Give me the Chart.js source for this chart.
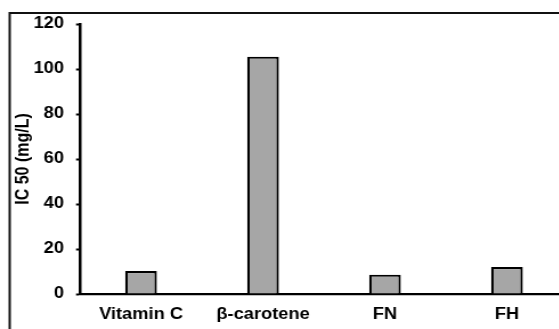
<!DOCTYPE html>
<html>
<head>
<meta charset="utf-8">
<script src="https://cdn.jsdelivr.net/npm/chart.js"></script>
<style>
  html, body { margin: 0; padding: 0; background: #fff; overflow: hidden; width: 559px; height: 329px; }
  #wrap { position: absolute; left: 0; top: 0; width: 506px; height: 329px; transform: scaleX(1.14); transform-origin: 0 0; }
  canvas { display: block; }
</style>
</head>
<body>
<div id="wrap"><canvas id="c" width="506" height="329"></canvas></div>
<script>
// IC50 values (mg/L) for each sample
const categories = ['Vitamin C', 'β-carotene', 'FN', 'FH'];
const ic50Values = [10.2, 105.5, 8.6, 12.0];
const yMin = 0;
const yMax = 120;
const yStep = 20;
const yTitle = 'IC 50 (mg/L)';

const FONT = 'Liberation Sans, Arial, sans-serif';

// outer frame around the figure (left and top edges)
const framePlugin = {
  id: 'frame',
  beforeDraw(chart) {
    const ctx = chart.ctx;
    ctx.save();
    ctx.fillStyle = '#fff';
    ctx.fillRect(0, 0, chart.width, chart.height);
    ctx.strokeStyle = '#111';
    ctx.lineWidth = 2;
    ctx.beginPath();
    ctx.moveTo(8.5, chart.height + 2);
    ctx.lineTo(8.5, 13);
    ctx.lineTo(chart.width + 2, 13);
    ctx.stroke();
    ctx.restore();
  }
};

new Chart(document.getElementById('c'), {
  type: 'bar',
  data: {
    labels: categories,
    datasets: [{
      data: ic50Values,
      backgroundColor: '#a6a6a6',
      borderColor: '#000',
      borderWidth: 2.2,
      borderSkipped: 'bottom',
      barPercentage: 0.26,
      categoryPercentage: 1.0
    }]
  },
  options: {
    responsive: false,
    devicePixelRatio: 1,
    animation: false,
    layout: { padding: { left: 0, top: 24, right: 7.8, bottom: 0 } },
    plugins: { legend: { display: false }, tooltip: { enabled: false } },
    scales: {
      x: {
        offset: true,
        grid: { display: false },
        border: { display: true, color: '#000', width: 2.2 },
        ticks: { color: '#000', padding: 2.5, font: { family: FONT, size: 16, weight: 'bold' } },
        afterFit(scale) { scale.height = 35; }
      },
      y: {
        min: yMin,
        max: yMax,
        grid: { display: true, drawOnChartArea: false, drawTicks: true, tickLength: 3.5, tickColor: '#000', tickWidth: 2 },
        border: { display: true, color: '#000', width: 2.5 },
        ticks: { stepSize: yStep, color: '#000', padding: 10.6, font: { family: FONT, size: 16, weight: 'bold' } },
        title: { display: true, text: yTitle, color: '#000', padding: { top: 10.6, bottom: 0 }, font: { family: FONT, size: 16, weight: 'bold' } },
        afterFit(scale) { scale.width = 70.2; }
      }
    }
  },
  plugins: [framePlugin]
});
</script>
</body>
</html>
